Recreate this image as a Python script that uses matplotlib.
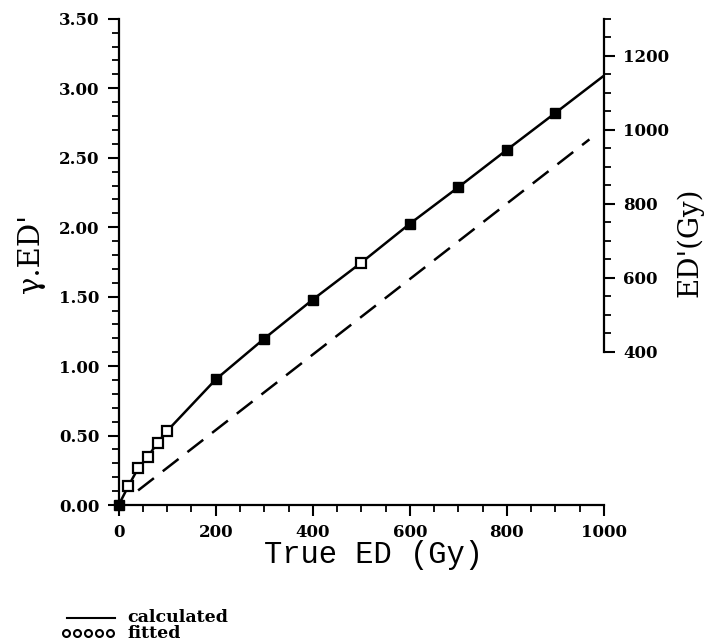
import matplotlib
matplotlib.use("Agg")
import matplotlib.pyplot as plt
from matplotlib.ticker import MultipleLocator, FormatStrFormatter
from matplotlib.lines import Line2D

# calculated curve, gamma.ED' against true ED (Gy)
calc_x = [0, 20, 40, 60, 80, 100, 200, 300, 400, 500, 600, 700, 800, 900, 1000]
calc_y = [0.0, 0.137, 0.264, 0.347, 0.448, 0.534, 0.904, 1.198, 1.479, 1.745,
          2.025, 2.288, 2.557, 2.823, 3.091]

# fitted points (open squares) and the filled ones
fit_x = [20, 40, 60, 80, 100, 500]
fit_y = [0.137, 0.264, 0.347, 0.448, 0.534, 1.745]
solid_x = [0, 200, 300, 400, 600, 700, 800, 900]
solid_y = [0.0, 0.904, 1.198, 1.479, 2.025, 2.288, 2.557, 2.823]

# dashed reference line
dash_x = [40, 970]
dash_y = [0.105, 2.632]

serif_b = dict(family="DejaVu Serif", weight="bold")

fig = plt.figure(figsize=(7.12, 6.44), dpi=100)
ax = fig.add_axes([0.1667, 0.2158, 0.6816, 0.755])

ax.plot(calc_x, calc_y, color="black", lw=1.8, zorder=2)
ax.plot(dash_x, dash_y, color="black", lw=1.8, ls=(0, (8, 4.5)), zorder=2)
ax.plot(fit_x, fit_y, ls="none", marker="s", ms=6.5, mfc="white", mec="black",
        mew=1.6, zorder=3, clip_on=False)
ax.plot(solid_x, solid_y, ls="none", marker="s", ms=6.5, mfc="black", mec="black",
        zorder=3, clip_on=False)

ax.set_xlim(0, 1000)
ax.set_ylim(0, 3.5)
ax.xaxis.set_major_locator(MultipleLocator(200))
ax.xaxis.set_minor_locator(MultipleLocator(50))
ax.yaxis.set_major_locator(MultipleLocator(0.5))
ax.yaxis.set_minor_locator(MultipleLocator(0.1))
ax.yaxis.set_major_formatter(FormatStrFormatter("%.2f"))
for s in ("top", "right"):
    ax.spines[s].set_visible(False)
for s in ("left", "bottom"):
    ax.spines[s].set_linewidth(1.6)
ax.tick_params(which="major", length=8, width=1.5, direction="out")
ax.tick_params(which="minor", length=5, width=1.3, direction="out")
ax.tick_params(axis="both", labelsize=12, pad=6)
for lab in ax.get_xticklabels() + ax.get_yticklabels():
    lab.set_fontfamily("DejaVu Serif")
    lab.set_fontweight("bold")

# axis titles placed where the original has them
fig.text(373 / 712, 1 - 555 / 644, "True ED (Gy)", family="Liberation Mono",
         fontsize=22, ha="center", va="center")
fig.text(31 / 712, 1 - 253 / 644, "γ.ED'", family="DejaVu Serif", fontsize=21,
         rotation=90, ha="center", va="center")

# right axis: ED' in Gy
ax2 = ax.twinx()
ax2.set_ylim(-14, 1300)
for s in ("top", "left", "bottom"):
    ax2.spines[s].set_visible(False)
ax2.spines["right"].set_bounds(400, 1300)
ax2.spines["right"].set_linewidth(1.6)
ax2.set_yticks([400, 600, 800, 1000, 1200])
ax2.set_yticks([v for v in range(400, 1301, 50) if v % 200 != 0 or v > 1200], minor=True)
ax2.tick_params(which="major", length=8, width=1.5, direction="out", labelsize=12, pad=6)
ax2.tick_params(which="minor", length=5, width=1.3, direction="out")
for lab in ax2.get_yticklabels():
    lab.set_fontfamily("DejaVu Serif")
    lab.set_fontweight("bold")
fig.text(690 / 712, 1 - 242 / 644, "ED'(Gy)", family="DejaVu Serif", fontsize=20,
         rotation=90, ha="center", va="center")

# key below the plot
fig.add_artist(Line2D([67 / 712, 115 / 712], [1 - 618 / 644] * 2, color="black", lw=1.5))
fig.add_artist(Line2D([(66 + 11 * i) / 712 for i in range(5)], [1 - 633 / 644] * 5,
                      ls="none", marker="o", ms=5, mfc="white", mec="black", mew=1.5))
fig.text(127 / 712, 1 - 618 / 644, "calculated", fontsize=12.5, va="center", **serif_b)
fig.text(127 / 712, 1 - 634 / 644, "fitted", fontsize=12.5, va="center", **serif_b)

fig.savefig("out.png", dpi=100)
